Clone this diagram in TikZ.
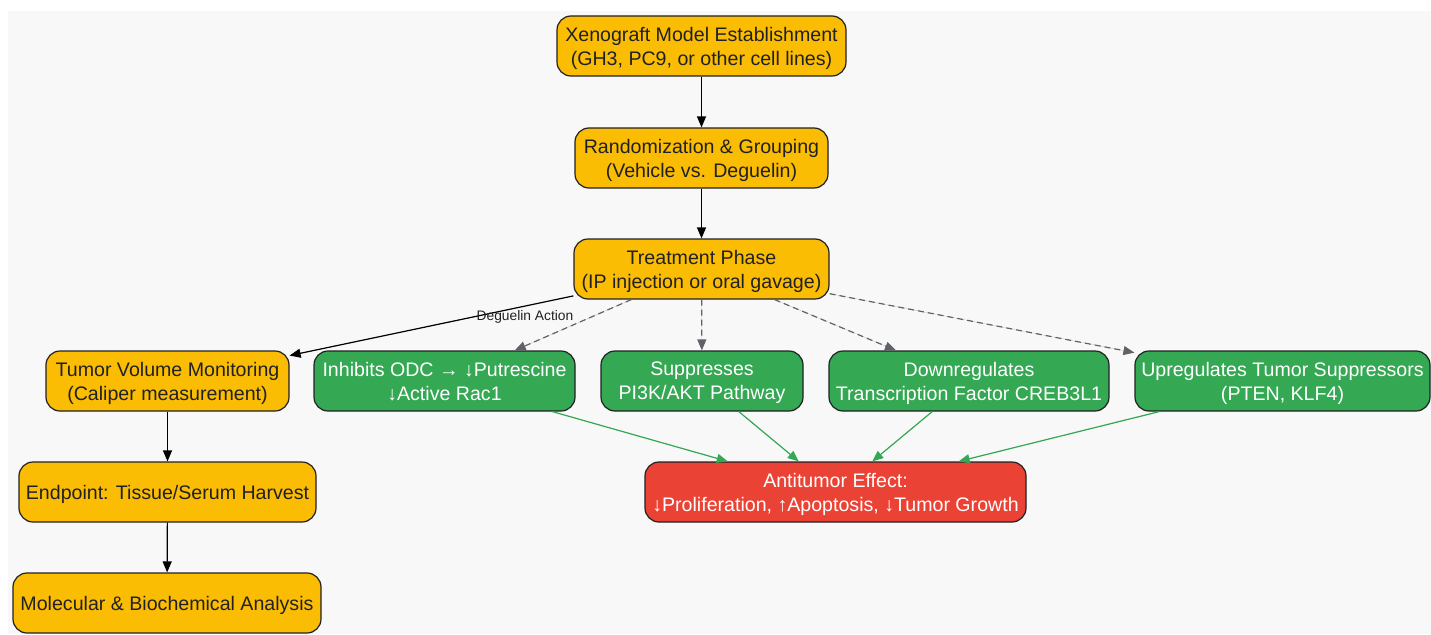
\documentclass[tikz,border=0pt]{standalone}
\usepackage{fontspec}
\setmainfont{Liberation Sans}
\usetikzlibrary{arrows.meta}
\definecolor{bgc}{HTML}{F8F8F8}
\definecolor{orng}{HTML}{FBBC04}
\definecolor{grn}{HTML}{34A853}
\definecolor{rd}{HTML}{EA4335}
\definecolor{dk}{HTML}{202124}
\definecolor{gry}{HTML}{5F6368}
\tikzset{
  x=1pt,y=-1pt,
  box/.style={draw=dk, line width=1.2pt, rounded corners=14pt, minimum height=60pt, inner sep=0pt, align=center,
    text depth=-1.5pt, font=\fontsize{19.6}{24}\selectfont},
  obox/.style={box, fill=orng, text=dk},
  gbox/.style={box, fill=grn, text=white},
  rbox/.style={box, fill=rd, text=white},
  tip/.style={-{Triangle[length=11pt,width=9pt]}},
  flow/.style={tip, draw=black, fill=black, line width=1.2pt},
  act/.style={tip, draw=gry, fill=gry, line width=1.2pt, dash pattern=on 6pt off 4pt},
  eff/.style={tip, draw=grn, fill=grn, line width=1.2pt},
}
\begin{document}
\begin{tikzpicture}
\useasboundingbox (0,0) rectangle (1431,634);
\fill[bgc] (8,11) rectangle (1431,634);
\node[obox, minimum width=289pt] (xeno) at (701.5,46) {Xenograft Model Establishment\\(GH3, PC9, or other cell lines)};
\node[obox, minimum width=253pt] (rand) at (701.5,158) {Randomization \& Grouping\\(Vehicle vs. Deguelin)};
\node[obox, minimum width=255pt] (treat) at (701.5,269) {Treatment Phase\\(IP injection or oral gavage)};
\node[obox, minimum width=243pt] (tumor) at (167.5,381) {Tumor Volume Monitoring\\(Caliper measurement)};
\node[gbox, minimum width=261pt] (odc) at (444.5,381) {Inhibits ODC → ↓Putrescine\\↓Active Rac1};
\node[gbox, minimum width=202pt] (pi3k) at (702,381) {Suppresses\\PI3K/AKT Pathway};
\node[gbox, minimum width=280pt] (creb) at (969,381) {Downregulates\\Transcription Factor CREB3L1};
\node[gbox, minimum width=295pt] (pten) at (1282.5,381) {Upregulates Tumor Suppressors\\(PTEN, KLF4)};
\node[obox, minimum width=297pt] (endp) at (167.5,492) {Endpoint: Tissue/Serum Harvest};
\node[obox, minimum width=308pt] (mol) at (167,603) {Molecular \& Biochemical Analysis};
\node[rbox, minimum width=381pt] (anti) at (835.5,492) {Antitumor Effect:\\↓Proliferation, ↑Apoptosis, ↓Tumor Growth};

\draw[flow] (xeno) -- (rand);
\draw[flow] (rand) -- (treat);
\draw[flow] (treat) -- (tumor);
\node[text=dk, font=\fontsize{13.8}{16}\selectfont, inner sep=0pt] (lbl) at (525,317) {Deguelin Action};
\draw[flow] (tumor) -- (endp);
\draw[flow] (endp) -- (mol);
\draw[act] (treat) -- (odc);
\draw[act] (treat) -- (pi3k);
\draw[act] (treat) -- (creb);
\draw[act] (treat) -- (pten);
\draw[eff] (odc) -- (anti);
\draw[eff] (pi3k) -- (anti);
\draw[eff] (creb) -- (anti);
\draw[eff] (pten) -- (anti);
\end{tikzpicture}
\end{document}
